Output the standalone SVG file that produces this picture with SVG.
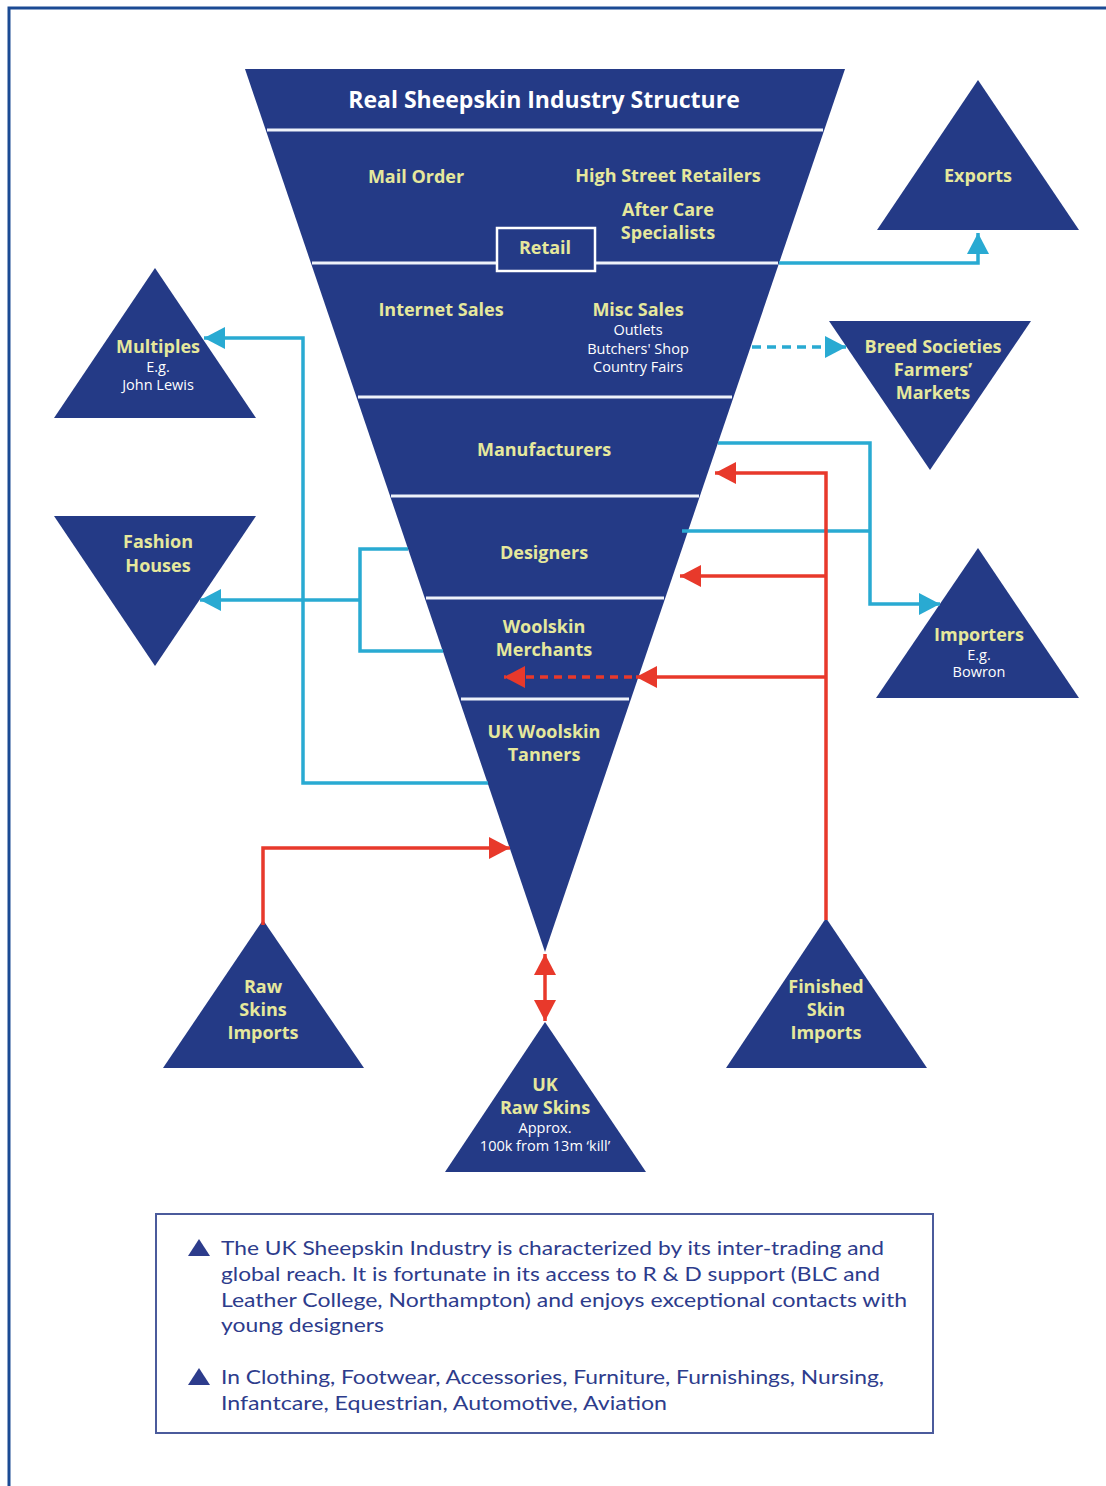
<svg xmlns="http://www.w3.org/2000/svg" width="1106" height="1486" viewBox="0 0 1106 1486">
<style>
.shape{fill:#243a86}
.div{stroke:#eef2fa;stroke-width:3}
.yl{font-family:"Open Sans",Lato,sans-serif;font-weight:bold;font-size:18px;fill:#e6e89c;text-anchor:middle}
.wh{font-family:"Open Sans",Lato,sans-serif;font-size:14.5px;fill:#ffffff;text-anchor:middle}
.title{font-family:"Open Sans",Lato,sans-serif;font-weight:bold;font-size:23px;fill:#ffffff;text-anchor:middle}
.leg{font-family:Lato,"Open Sans",sans-serif;font-size:20px;fill:#2d3c8c}
.cy{fill:none;stroke:#29aad2;stroke-width:3.5}
.rd{fill:none;stroke:#e8392b;stroke-width:3.5}
</style>
<defs>
<marker id="ac" markerUnits="userSpaceOnUse" markerWidth="22" markerHeight="24" refX="21" refY="12" orient="auto-start-reverse" viewBox="0 0 22 24"><path d="M0,1 L21,12 L0,23 z" fill="#29aad2"/></marker>
<marker id="ar" markerUnits="userSpaceOnUse" markerWidth="22" markerHeight="24" refX="21" refY="12" orient="auto-start-reverse" viewBox="0 0 22 24"><path d="M0,1 L21,12 L0,23 z" fill="#e8392b"/></marker>
</defs>
<rect width="1106" height="1486" fill="#ffffff"/>
<path d="M9,1486 V8 H1106" fill="none" stroke="#1b4a94" stroke-width="3"/>

<g id="funnel">
<polygon class="shape" points="245,69 845,69 545,952"/>
<line class="div" x1="267" y1="130" x2="823" y2="130"/>
<line class="div" x1="312" y1="263" x2="778" y2="263"/>
<line class="div" x1="358" y1="397" x2="732" y2="397"/>
<line class="div" x1="391" y1="496" x2="699" y2="496"/>
<line class="div" x1="426" y1="598" x2="664" y2="598"/>
<line class="div" x1="461" y1="699" x2="629" y2="699"/>
<text class="title" x="544" y="108">Real Sheepskin Industry Structure</text>
</g>

<g id="retail">
<rect x="497" y="228" width="98" height="43" fill="#243a86" stroke="#ffffff" stroke-width="2.5"/>
<text class="yl" x="545" y="254">Retail</text>
<text class="yl" x="416" y="183">Mail Order</text>
<text class="yl" x="668" y="182">High Street Retailers</text>
<text class="yl" x="668" y="216">After Care</text>
<text class="yl" x="668" y="239">Specialists</text>
</g>

<g id="sales">
<text class="yl" x="441" y="316">Internet Sales</text>
<text class="yl" x="638" y="316">Misc Sales</text>
<text class="wh" x="638" y="335">Outlets</text>
<text class="wh" x="638" y="354">Butchers' Shop</text>
<text class="wh" x="638" y="372">Country Fairs</text>
</g>

<g id="manufacturers"><text class="yl" x="544" y="456">Manufacturers</text></g>
<g id="designers"><text class="yl" x="544" y="559">Designers</text></g>
<g id="merchants"><text class="yl" x="544" y="633">Woolskin</text><text class="yl" x="544" y="656">Merchants</text></g>
<g id="tanners"><text class="yl" x="544" y="738">UK Woolskin</text><text class="yl" x="544" y="761">Tanners</text></g>

<g id="exports">
<polygon class="shape" points="978,80 1079,230 877,230"/>
<text class="yl" x="978" y="182">Exports</text>
</g>

<g id="multiples">
<polygon class="shape" points="155,268 256,418 54,418"/>
<text class="yl" x="158" y="353">Multiples</text>
<text class="wh" x="158" y="372">E.g.</text>
<text class="wh" x="158" y="390">John Lewis</text>
</g>

<g id="breed">
<polygon class="shape" points="829,321 1031,321 930,470"/>
<text class="yl" x="933" y="353">Breed Societies</text>
<text class="yl" x="933" y="376">Farmers’</text>
<text class="yl" x="933" y="399">Markets</text>
</g>

<g id="fashion">
<polygon class="shape" points="54,516 256,516 155,666"/>
<text class="yl" x="158" y="548">Fashion</text>
<text class="yl" x="158" y="572">Houses</text>
</g>

<g id="importers">
<polygon class="shape" points="978,548 1079,698 876,698"/>
<text class="yl" x="979" y="641">Importers</text>
<text class="wh" x="979" y="660">E.g.</text>
<text class="wh" x="979" y="677">Bowron</text>
</g>

<g id="raw-imports">
<polygon class="shape" points="263,920 364,1068 163,1068"/>
<text class="yl" x="263" y="993">Raw</text>
<text class="yl" x="263" y="1016">Skins</text>
<text class="yl" x="263" y="1039">Imports</text>
</g>

<g id="finished-imports">
<polygon class="shape" points="826,918 927,1068 726,1068"/>
<text class="yl" x="826" y="993">Finished</text>
<text class="yl" x="826" y="1016">Skin</text>
<text class="yl" x="826" y="1039">Imports</text>
</g>

<g id="uk-raw">
<polygon class="shape" points="545,1022 646,1172 445,1172"/>
<text class="yl" x="545" y="1091">UK</text>
<text class="yl" x="545" y="1114">Raw Skins</text>
<text class="wh" x="545" y="1133">Approx.</text>
<text class="wh" x="545" y="1151">100k from 13m ‘kill’</text>
</g>

<g id="connectors">
<path class="cy" d="M779,263 H978 V233" marker-end="url(#ac)"/>
<path class="cy" d="M488,783 H303 V338 H204" marker-end="url(#ac)"/>
<path class="cy" d="M752,347 H846" stroke-dasharray="9 6" stroke-width="4" marker-end="url(#ac)"/>
<path class="cy" d="M408,549 H360 V651 H443"/>
<path class="cy" d="M360,600 H200" marker-end="url(#ac)"/>
<path class="cy" d="M718,443 H870 V604 H940" marker-end="url(#ac)"/>
<path class="cy" d="M682,531 H870"/>
<path class="rd" d="M826,920 V473 H715" marker-end="url(#ar)"/>
<path class="rd" d="M826,576 H680" marker-end="url(#ar)"/>
<path class="rd" d="M826,677 H636" marker-end="url(#ar)"/>
<path class="rd" d="M632,677 H504" stroke-dasharray="8 6" marker-end="url(#ar)"/>
<path class="rd" d="M263,925 V848 H510" marker-end="url(#ar)"/>
<path class="rd" d="M545,954 V1021" marker-start="url(#ar)" marker-end="url(#ar)"/>
</g>

<g id="legend">
<rect x="156" y="1214" width="777" height="219" fill="none" stroke="#4b5b9c" stroke-width="2"/>
<polygon fill="#2d3c8c" points="199,1239 210,1256 188,1256"/>
<polygon fill="#2d3c8c" points="199,1368 210,1385 188,1385"/>
<text class="leg" x="221" y="1255" textLength="663" lengthAdjust="spacingAndGlyphs">The UK Sheepskin Industry is characterized by its inter-trading and</text>
<text class="leg" x="221" y="1281" textLength="659" lengthAdjust="spacingAndGlyphs">global reach. It is fortunate in its access to R &amp; D support (BLC and</text>
<text class="leg" x="221" y="1307" textLength="686" lengthAdjust="spacingAndGlyphs">Leather College, Northampton) and enjoys exceptional contacts with</text>
<text class="leg" x="221" y="1332" textLength="163" lengthAdjust="spacingAndGlyphs">young designers</text>
<text class="leg" x="221" y="1384" textLength="663" lengthAdjust="spacingAndGlyphs">In Clothing, Footwear, Accessories, Furniture, Furnishings, Nursing,</text>
<text class="leg" x="221" y="1410" textLength="446" lengthAdjust="spacingAndGlyphs">Infantcare, Equestrian, Automotive, Aviation</text>
</g>
</svg>
